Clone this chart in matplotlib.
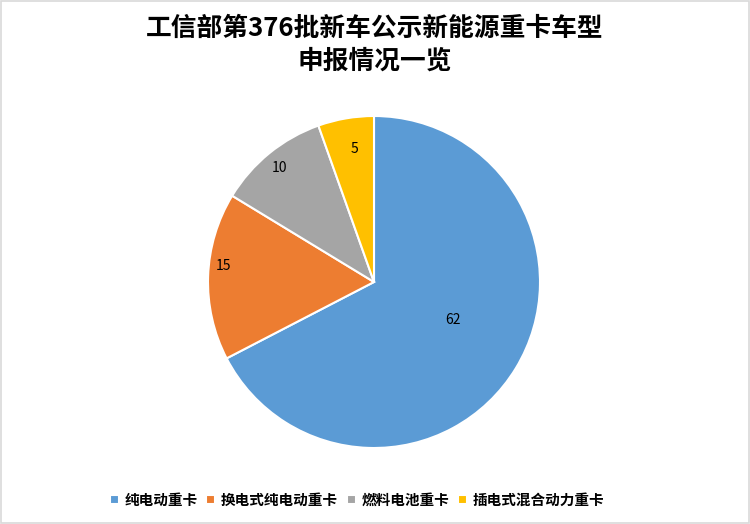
import numpy as np
import matplotlib
matplotlib.use("Agg")
import matplotlib.pyplot as plt
from matplotlib.patches import Rectangle

plt.rcParams['font.family'] = ['Noto Sans CJK SC', 'DejaVu Sans']

# данные
categories = ['纯电动重卡', '换电式纯电动重卡', '燃料电池重卡', '插电式混合动力重卡']
values = [62, 15, 10, 5]
colors = ['#5B9BD5', '#ED7D31', '#A5A5A5', '#FFC000']
label_r = [0.53, 0.91, 0.89, 0.81]  # радиусы подписей
label_da = [5.5, -4, 0.5, -1.5]  # сдвиг угла подписи, градусы

fig = plt.figure(figsize=(7.5, 5.24), dpi=100)
fig.patches.append(Rectangle((0.001, 0.001), 0.997, 0.997, transform=fig.transFigure,
                             fill=False, edgecolor='#D9D9D9', linewidth=1.2))

ax = fig.add_axes([(374 - 166) / 750, (524 - 282 - 166) / 524, 332 / 750, 332 / 524])
wedges, _ = ax.pie(values, colors=colors, startangle=90, counterclock=False, radius=1,
                   wedgeprops=dict(edgecolor='white', linewidth=1.5))
ax.set_xlim(-1, 1)
ax.set_ylim(-1, 1)
ax.set_aspect('equal')

total = sum(values)
start = 90
for v, r, da in zip(values, label_r, label_da):
    mid = np.deg2rad(start - v / total * 360 / 2 + da)
    start -= v / total * 360
    ax.text(r * np.cos(mid), r * np.sin(mid), str(v), ha='center', va='center',
            fontsize=10, color='#000000')

fig.text(0.5, 0.946, '工信部第376批新车公示新能源重卡车型', ha='center', va='center',
         fontsize=18.5, fontweight='bold')
fig.text(0.5, 0.883, '申报情况一览', ha='center', va='center',
         fontsize=18.5, fontweight='bold')

fig.legend(wedges, categories, loc='center', bbox_to_anchor=(0.476, 0.046), ncol=4,
           frameon=False, handlelength=0.6, handleheight=0.6,
           handletextpad=0.4, columnspacing=0.6, prop={'weight': 'bold', 'size': 10.5})

fig.savefig('out.png', dpi=100)
